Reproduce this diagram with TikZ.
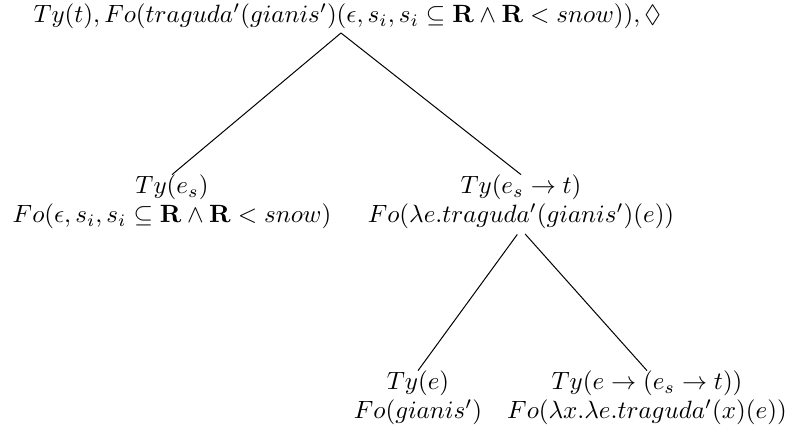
\documentclass[tikz,border=0pt]{standalone}
\usepackage{amsmath,amssymb}
\usetikzlibrary{positioning}

\begin{document}
\begin{tikzpicture}[
    x=0.40pt, y=-0.40pt,
    term/.style={align=center, inner sep=0pt},
    branch/.style={thin, shorten <=2.5pt}
]
\useasboundingbox (0,0) rectangle (788,425);

% root
\node[term, anchor=west] (root) at (33,16) {$Ty(t), Fo(traguda'(gianis')(\epsilon, s_i, s_i \subseteq \mathbf{R} \wedge \mathbf{R} < snow)), \Diamond$};
\coordinate (rootfoot) at (341,33);

% first level
\node[term] (subj) at (172,202) {$Ty(e_s)$\\[-0.5pt]$Fo(\epsilon, s_i, s_i \subseteq \mathbf{R} \wedge \mathbf{R} < snow)$};
\node[term] (pred) at (521,202) {$Ty(e_s \rightarrow t)$\\[-0.5pt]$Fo(\lambda e.traguda'(gianis')(e))$};

% second level
\node[term] (obj) at (418,398) {$Ty(e)$\\[-0.5pt]$Fo(gianis')$};
\node[term] (verb) at (647,398) {$Ty(e \rightarrow (e_s \rightarrow t))$\\[-0.5pt]$Fo(\lambda x.\lambda e.traguda'(x)(e))$};

% branches
\draw (rootfoot) -- (subj.north);
\draw (rootfoot) -- (pred.north);
\draw[branch] (pred.south) -- (obj.north);
\draw[branch] (pred.south) -- (verb.north);
\end{tikzpicture}
\end{document}
